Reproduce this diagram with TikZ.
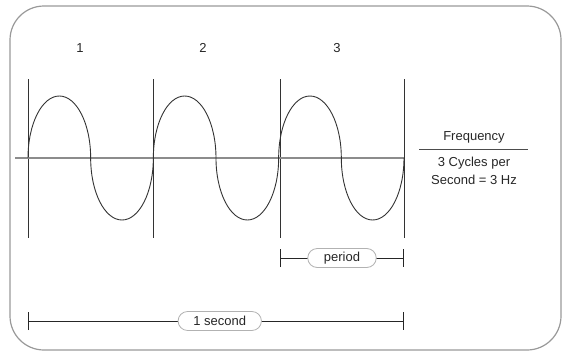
\documentclass[tikz,border=0pt]{standalone}
\usepackage{fontspec}
\setmainfont{Liberation Sans}
\usetikzlibrary{arrows.meta,shapes.misc}
\begin{document}
\begin{tikzpicture}[x=1pt, y=-1pt, >=stealth,
  every node/.style={font=\fontsize{13}{18}\selectfont, text=black!85},
  pill/.style={draw=black!30, line width=0.8pt, rounded rectangle, fill=white, minimum height=19pt, inner xsep=14pt, inner ysep=2pt},
  bar/.style={line width=1pt, black!85, {Bar[width=18pt]}-{Bar[width=18pt]}},
  cycle/.style={line width=0.9pt, black!80}]
\useasboundingbox (0,0) rectangle (562,351);
\draw[black!40, line width=1.2pt, rounded corners=34pt] (10,6) rectangle (561,350);
% cycle boundaries
\foreach \x in {28,153,280,404}
  \draw[cycle] (\x,79) -- (\x,238);
\draw[black!45, line width=1.2pt] (15,158) -- (404,158);
\foreach \c in {0,1,2}
  \draw[cycle] ({28+125.33*\c},158)
    arc[start angle=180, end angle=360, x radius=31.33, y radius=62]
    arc[start angle=180, end angle=0, x radius=31.33, y radius=62];
\node (one) at (80,48) {1};
\node (two) at (203,48) {2};
\node (three) at (337,48) {3};
% period bar
\coordinate (ps) at (280,258);
\coordinate (pe) at (404,258);
\draw[bar] (ps) -- (pe) node[pill, pos=0.5] (period) {period};
% one second bar
\coordinate (ss) at (28,321);
\coordinate (se) at (404,321);
\draw[bar] (ss) -- (se) node[pill, pos=0.51] (second) {1 second};
% frequency
\node (freq) at (474,137) {Frequency};
\draw[black!70, line width=0.9pt] (419,149) -- (528,149);
\node[align=center] (rate) at (474,171) {3 Cycles per\\Second = 3 Hz};
\end{tikzpicture}
\end{document}
